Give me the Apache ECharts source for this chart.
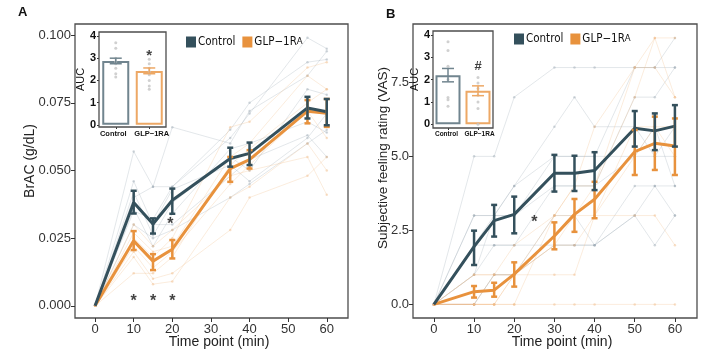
<!DOCTYPE html>
<html><head><meta charset="utf-8">
<script src="https://cdn.jsdelivr.net/npm/echarts@6/dist/echarts.min.js"></script>
<style>html,body{margin:0;padding:0;background:#fff}#c{width:714px;height:363px}</style>
</head><body><div id="c"></div>
<script>
// ---------- Panel A data (BrAC, g/dL) ----------
const timesA = [0, 10, 15, 20, 35, 40, 55, 60];
const ctrlMeanA = [0, 0.0382, 0.0302, 0.0390, 0.0544, 0.0563, 0.0731, 0.0717];
const ctrlLoA   = [0, 0.0341, 0.0267, 0.0340, 0.0514, 0.0520, 0.0692, 0.0667];
const ctrlHiA   = [0, 0.0425, 0.0323, 0.0433, 0.0584, 0.0603, 0.0772, 0.0764];
const glpMeanA  = [0, 0.0240, 0.0165, 0.0209, 0.0507, 0.0540, 0.0719, 0.0711];
const glpLoA    = [0, 0.0206, 0.0132, 0.0175, 0.0458, 0.0507, 0.0674, 0.0661];
const glpHiA    = [0, 0.0276, 0.0191, 0.0243, 0.0550, 0.0575, 0.0760, 0.0764];
const ctrlSubjA = [
  [0, 0.057, 0.044, 0.044, 0.062, 0.071, 0.099, 0.095],
  [0, 0.040, 0.044, 0.066, 0.060, 0.072, 0.085, 0.094],
  [0, 0.035, 0.032, 0.044, 0.065, 0.075, 0.090, 0.091],
  [0, 0.038, 0.030, 0.030, 0.048, 0.054, 0.063, 0.055],
  [0, 0.030, 0.025, 0.028, 0.040, 0.045, 0.060, 0.065],
  [0, 0.042, 0.026, 0.038, 0.055, 0.050, 0.080, 0.078],
  [0, 0.036, 0.022, 0.034, 0.058, 0.060, 0.068, 0.064],
  [0, 0.046, 0.030, 0.043, 0.052, 0.046, 0.062, 0.071]
];
const glpSubjA = [
  [0, 0.020, 0.010, 0.012, 0.028, 0.040, 0.048, 0.055],
  [0, 0.018, 0.008, 0.009, 0.040, 0.044, 0.060, 0.050],
  [0, 0.027, 0.020, 0.022, 0.055, 0.060, 0.085, 0.080],
  [0, 0.025, 0.018, 0.025, 0.066, 0.068, 0.088, 0.090],
  [0, 0.030, 0.022, 0.028, 0.048, 0.050, 0.055, 0.041],
  [0, 0.022, 0.014, 0.020, 0.045, 0.052, 0.072, 0.062],
  [0, 0.012, 0.012, 0.018, 0.052, 0.058, 0.075, 0.080]
];
const sigA = [[10, 0.0015], [15, 0.0015], [20, 0.0015], [19.5, 0.0300]];
const yTicksA = [0, 0.025, 0.05, 0.075, 0.1];
// inset A (AUC)
const aucCtrlA = {mean: 2.87, lo: 2.75, hi: 3.00, pts: [3.7, 3.45, 3.0, 2.85, 2.75, 2.55, 2.3, 2.15]};
const aucGlpA  = {mean: 2.42, lo: 2.30, hi: 2.56, pts: [2.95, 2.75, 2.55, 2.4, 2.25, 2.0, 1.75, 1.6]};
const aucSigA = [[1, 3.3, '*']];

// ---------- Panel B data (VAS) ----------
const timesB = [0, 10, 15, 20, 30, 35, 40, 50, 55, 60];
const ctrlMeanB = [0, 1.95, 2.83, 3.04, 4.43, 4.43, 4.52, 5.95, 5.86, 6.02];
const ctrlLoB   = [0, 1.33, 2.29, 2.40, 3.81, 3.83, 3.86, 5.33, 5.21, 5.33];
const ctrlHiB   = [0, 2.49, 3.36, 3.64, 5.05, 5.02, 5.14, 6.53, 6.45, 6.73];
const glpMeanB  = [0, 0.43, 0.48, 1.02, 2.31, 3.04, 3.55, 5.16, 5.44, 5.35];
const glpLoB    = [0, 0.23, 0.26, 0.60, 1.86, 2.45, 2.91, 4.37, 4.54, 4.37];
const glpHiB    = [0, 0.62, 0.73, 1.42, 2.77, 3.56, 4.14, 5.89, 6.34, 6.28];
const ctrlSubjB = [
  [0, 5, 5, 7, 8, 8, 8, 8, 8, 8],
  [0, 3, 3, 4, 6, 7, 6, 6, 5, 6],
  [0, 2, 3, 3, 4, 4, 4, 5, 6, 4],
  [0, 1, 2, 2, 4, 4, 4, 7, 7, 8],
  [0, 3, 3, 3, 5, 5, 5, 5, 5, 5],
  [0, 0, 1, 1, 3, 3, 2, 3, 2, 3],
  [0, 2, 2, 2, 2, 2, 2, 4, 4, 4],
  [0, 1, 3, 4, 5, 5, 5, 8, 8, 9],
  [0, 0, 1, 1, 2, 2, 2, 3, 4, 3]
];
const glpSubjB = [
  [0, 0, 0, 0, 0, 0, 0, 0, 0, 0],
  [0, 1, 1, 1, 1, 1, 3, 3, 3, 2],
  [0, 0, 0, 1, 2, 3, 4, 7, 9, 9],
  [0, 0, 0, 0, 3, 4, 6, 8, 8, 7],
  [0, 1, 1, 2, 3, 3, 3, 5, 6, 5],
  [0, 0, 0, 1, 2, 2, 3, 6, 6, 6],
  [0, 0, 1, 1, 3, 4, 4, 8, 9, 7]
];
const sigB = [[25, 2.76]];
const yTicksB = [0, 2.5, 5, 7.5];
const aucCtrlB = {mean: 2.2, lo: 1.9, hi: 2.5, pts: [3.7, 3.3, 2.6, 2.0, 1.2, 1.1, 0.8]};
const aucGlpB  = {mean: 1.5, lo: 1.28, hi: 1.72, pts: [2.1, 1.85, 1.6, 1.3, 1.0, 0.7, 0.0]};
const aucSigB = [[1, 2.6, '#']];

const xTicks = [0, 10, 20, 30, 40, 50, 60];
const aucTicks = [0, 1, 2, 3, 4];
const groups = ['Control', 'GLP-1RA'];

// ---------- styling ----------
const FONT = '"Liberation Sans", Arial, sans-serif';
const NARROW = '"DejaVu Sans Condensed", "Liberation Sans Narrow", "Liberation Sans", sans-serif';
const C_CTRL = '#34505c', C_GLP = '#e8923d';
const C_CTRL_BAR = '#71858f', C_GLP_BAR = '#eda865';
const C_CTRL_SUB = '#9aa7b1', C_GLP_SUB = '#f0b982';
const FRAME = '#4d4d4d';
const CLEAR = 'rgba(0,0,0,0)';

function zip(xs, ys) { return xs.map((x, i) => [x, ys[i]]); }

function errSeries(xi, yi, xs, lo, hi, color, cap, width, z) {
  const data = xs.map((x, i) => [x, lo[i], hi[i]]).filter(d => d[2] > d[1]);
  return {
    type: 'custom', xAxisIndex: xi, yAxisIndex: yi, z: z, silent: true,
    data: data, encode: {x: 0, y: [1, 2]},
    renderItem: function (params, api) {
      const a = api.coord([api.value(0), api.value(1)]);
      const b = api.coord([api.value(0), api.value(2)]);
      const st = {stroke: color, lineWidth: width};
      return {type: 'group', children: [
        {type: 'line', shape: {x1: a[0], y1: a[1], x2: b[0], y2: b[1]}, style: st},
        {type: 'line', shape: {x1: a[0] - cap, y1: a[1], x2: a[0] + cap, y2: a[1]}, style: st},
        {type: 'line', shape: {x1: b[0] - cap, y1: b[1], x2: b[0] + cap, y2: b[1]}, style: st}
      ]};
    }
  };
}

function subjSeries(xi, yi, xs, rows, color) {
  return rows.map((r, k) => ({
    type: 'line', name: 'sub' + k, xAxisIndex: xi, yAxisIndex: yi, z: 1, silent: true,
    data: zip(xs, r), symbol: 'circle', symbolSize: 2.5, showSymbol: true,
    lineStyle: {color: color, width: 0.8, opacity: 0.35},
    itemStyle: {color: color, opacity: 0.45}, animation: false
  }));
}

function meanSeries(xi, yi, xs, ys, name, color, z) {
  return {type: 'line', name: name, xAxisIndex: xi, yAxisIndex: yi, z: z, silent: true,
    data: zip(xs, ys), symbol: 'none', lineStyle: {color: color, width: 3}, itemStyle: {color: color},
    animation: false};
}

function sigSeries(xi, yi, pts, size) {
  return {type: 'scatter', xAxisIndex: xi, yAxisIndex: yi, z: 20, silent: true,
    data: pts.map(p => [p[0], p[1]]), symbolSize: 2, itemStyle: {color: CLEAR},
    labelLayout: {hideOverlap: false},
    label: {show: true, position: 'inside', formatter: '*', fontSize: size, fontWeight: 'bold',
      color: '#111', fontFamily: FONT, offset: [0, 4]}, animation: false};
}

function insetSeries(xi, yi, ctrl, glp, sig, barW) {
  const out = [];
  out.push({type: 'bar', xAxisIndex: xi, yAxisIndex: yi, z: 12, silent: true, barWidth: barW,
    data: [
      {value: ctrl.mean, itemStyle: {color: '#fff', borderColor: C_CTRL_BAR, borderWidth: 2}},
      {value: glp.mean, itemStyle: {color: '#fff', borderColor: C_GLP_BAR, borderWidth: 2}}
    ], animation: false});
  out.push({type: 'scatter', xAxisIndex: xi, yAxisIndex: yi, z: 13, silent: true, symbolSize: 3,
    itemStyle: {color: '#c4c4c4'},
    data: ctrl.pts.map(v => [0, v]).concat(glp.pts.map(v => [1, v])), animation: false});
  out.push(errSeries(xi, yi, [0], [ctrl.lo], [ctrl.hi], C_CTRL_BAR, 6, 1.5, 14));
  out.push(errSeries(xi, yi, [1], [glp.lo], [glp.hi], C_GLP_BAR, 6, 1.5, 14));
  const isStar = sig[0][2] === '*';
  out.push({type: 'scatter', xAxisIndex: xi, yAxisIndex: yi, z: 15, silent: true,
    data: sig.map(s => [s[0], s[1]]), symbolSize: 2, itemStyle: {color: CLEAR},
    label: {show: true, position: 'inside', formatter: p => sig[p.dataIndex][2],
      fontSize: isStar ? 15 : 13, fontWeight: 'bold', color: '#111', fontFamily: FONT,
      offset: [0, isStar ? 4 : 0]}, animation: false});
  return out;
}

function mainX(gi) {
  return {type: 'value', gridIndex: gi, min: -5.2, max: 65.5,
    axisLine: {show: false, onZero: false}, splitLine: {show: false},
    axisTick: {show: true, length: 4, lineStyle: {color: '#333'}, customValues: xTicks},
    axisLabel: {fontSize: 13, color: '#333', fontFamily: FONT, margin: 5, customValues: xTicks}};
}
function mainY(gi, min, max, ticks, dec) {
  return {type: 'value', gridIndex: gi, min: min, max: max,
    axisLine: {show: false, onZero: false}, splitLine: {show: false},
    axisTick: {show: true, length: 4, lineStyle: {color: '#333'}, customValues: ticks},
    axisLabel: {fontSize: 13, color: '#333', fontFamily: FONT, margin: 4, customValues: ticks,
      formatter: v => Number(v).toFixed(dec)}};
}
function insetX(gi, fs, pad) {
  const rs = {fontSize: fs, color: '#111', fontWeight: 'bold', fontFamily: FONT};
  return {type: 'category', gridIndex: gi, data: groups, boundaryGap: true,
    axisLine: {show: false, onZero: false}, splitLine: {show: false},
    axisTick: {show: true, length: 2, alignWithLabel: true, interval: 0, lineStyle: {color: '#333'}},
    axisLabel: {fontSize: fs, color: '#111', fontWeight: 'bold', fontFamily: FONT, margin: 3,
      interval: 0, hideOverlap: false,
      formatter: v => (v === 'GLP-1RA' ? '{b|GLP−1RA}' : '{a|' + v + '}'),
      rich: {a: Object.assign({padding: [0, pad, 0, 0]}, rs), b: Object.assign({padding: [0, 0, 0, pad]}, rs)}}};
}
function insetY(gi, min, max) {
  return {type: 'value', gridIndex: gi, min: min, max: max,
    axisLine: {show: false, onZero: false}, splitLine: {show: false},
    name: 'AUC', nameLocation: 'middle', nameGap: 13, nameRotate: 90,
    nameTextStyle: {fontSize: 11, color: '#111', fontFamily: FONT},
    axisTick: {show: true, length: 2, lineStyle: {color: '#333'}, customValues: aucTicks},
    axisLabel: {fontSize: 11, color: '#111', fontWeight: 'bold', fontFamily: FONT, margin: 3,
      customValues: aucTicks}};
}

const legendBase = {
  data: groups, icon: 'rect', itemWidth: 10, itemHeight: 11, itemGap: 7, selectedMode: false,
  formatter: n => (n === 'GLP-1RA' ? 'GLP−1R{s|A}' : n),
  textStyle: {fontSize: 11.5, color: '#111', fontFamily: NARROW, padding: [0, 0, 0, -3],
    rich: {s: {fontSize: 9.5, color: '#111', fontFamily: NARROW}}}
};

const option = {
  animation: false,
  backgroundColor: '#fff',
  grid: [
    {left: 75, top: 24, width: 273, height: 294, show: true, borderColor: FRAME, borderWidth: 1.3, backgroundColor: '#fff', z: 0},
    {left: 99, top: 32, width: 67, height: 95, show: true, borderColor: FRAME, borderWidth: 1.3, backgroundColor: '#fff', z: 10},
    {left: 413, top: 24, width: 284, height: 294, show: true, borderColor: FRAME, borderWidth: 1.3, backgroundColor: '#fff', z: 0},
    {left: 433, top: 31, width: 60, height: 97, show: true, borderColor: FRAME, borderWidth: 1.3, backgroundColor: '#fff', z: 10}
  ],
  xAxis: [mainX(0), insetX(1, 7.5, 5), mainX(2), insetX(3, 6.5, 3)],
  yAxis: [mainY(0, -0.0045, 0.1041, yTicksA, 3), insetY(1, -0.1, 4.18),
          mainY(2, -0.46, 9.47, yTicksB, 1), insetY(3, -0.17, 4.18)],
  legend: [
    Object.assign({}, legendBase, {left: 181, top: 31}),
    Object.assign({}, legendBase, {left: 509, top: 28})
  ],
  graphic: [
    {type: 'text', left: 18, top: 6, style: {text: 'A', fontSize: 13, fontWeight: 'bold', fill: '#111', fontFamily: FONT}},
    {type: 'text', left: 386, top: 8, style: {text: 'B', fontSize: 13, fontWeight: 'bold', fill: '#111', fontFamily: FONT}},
    {type: 'text', x: 219, y: 342, style: {text: 'Time point (min)', fontSize: 14, fill: '#222', fontFamily: FONT, align: 'center', verticalAlign: 'middle'}},
    {type: 'text', x: 562, y: 342, style: {text: 'Time point (min)', fontSize: 14, fill: '#222', fontFamily: FONT, align: 'center', verticalAlign: 'middle'}},
    {type: 'text', x: 30, y: 161, rotation: Math.PI / 2, style: {text: 'BrAC (g/dL)', fontSize: 14, fill: '#222', fontFamily: FONT, align: 'center', verticalAlign: 'middle'}},
    {type: 'text', x: 383, y: 158, rotation: Math.PI / 2, style: {text: 'Subjective feeling rating (VAS)', fontSize: 13.5, fill: '#222', fontFamily: FONT, align: 'center', verticalAlign: 'middle'}}
  ],
  series: [].concat(
    subjSeries(0, 0, timesA, ctrlSubjA, C_CTRL_SUB),
    subjSeries(0, 0, timesA, glpSubjA, C_GLP_SUB),
    [meanSeries(0, 0, timesA, glpMeanA, 'GLP-1RA', C_GLP, 4),
     meanSeries(0, 0, timesA, ctrlMeanA, 'Control', C_CTRL, 5),
     errSeries(0, 0, timesA, glpLoA, glpHiA, C_GLP, 3, 2.5, 6),
     errSeries(0, 0, timesA, ctrlLoA, ctrlHiA, C_CTRL, 3, 2.5, 7),
     sigSeries(0, 0, sigA, 16)],
    insetSeries(1, 1, aucCtrlA, aucGlpA, aucSigA, 27),
    subjSeries(2, 2, timesB, ctrlSubjB, C_CTRL_SUB),
    subjSeries(2, 2, timesB, glpSubjB, C_GLP_SUB),
    [meanSeries(2, 2, timesB, glpMeanB, 'GLP-1RA', C_GLP, 4),
     meanSeries(2, 2, timesB, ctrlMeanB, 'Control', C_CTRL, 5),
     errSeries(2, 2, timesB, glpLoB, glpHiB, C_GLP, 3, 2.5, 6),
     errSeries(2, 2, timesB, ctrlLoB, ctrlHiB, C_CTRL, 3, 2.5, 7),
     sigSeries(2, 2, sigB, 16)],
    insetSeries(3, 3, aucCtrlB, aucGlpB, aucSigB, 25)
  )
};
const chart = echarts.init(document.getElementById('c'), null, {renderer: 'canvas'});
chart.setOption(option);
</script>
</body></html>
